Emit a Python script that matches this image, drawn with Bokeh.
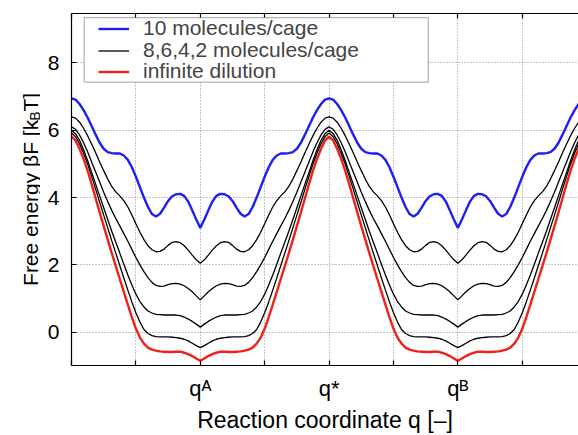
import math
from bokeh.plotting import figure
from bokeh.layouts import row
from bokeh.models import (Range1d, FixedTicker, LinearAxis, Legend, LegendItem,
                          Label, BoxAnnotation)
from bokeh.embed import file_html
from bokeh.resources import INLINE

# ---- data ----
# Each profile is read from q = 0 (barrier q*) to q = 2 (cage minimum q^A) in steps of 0.0625.
# The reference plots the same profile mirrored about q^A and repeated for the second cage q^B.
q_half = [0.0625 * i for i in range(33)]
blue_half = [6.95, 6.91, 6.78, 6.60, 6.38, 6.13, 5.87, 5.63, 5.45, 5.35, 5.32, 5.31, 5.31, 5.25, 5.12, 4.90,
             4.62, 4.31, 4.00, 3.72, 3.51, 3.44, 3.52, 3.70, 3.90, 4.04, 4.10, 4.11, 4.05, 3.88, 3.62, 3.35, 3.10]
black8_half = [6.40, 6.36, 6.24, 6.06, 5.84, 5.59, 5.33, 5.06, 4.80, 4.55, 4.33, 4.17, 4.05, 3.91, 3.72, 3.48,
               3.22, 2.97, 2.75, 2.57, 2.45, 2.39, 2.40, 2.47, 2.58, 2.67, 2.69, 2.66, 2.57, 2.44, 2.29, 2.15, 2.05]
black6_half = [6.10, 6.03, 5.86, 5.63, 5.36, 5.06, 4.76, 4.46, 4.16, 3.88, 3.62, 3.38, 3.16, 2.93, 2.70, 2.46,
               2.22, 2.00, 1.80, 1.62, 1.48, 1.39, 1.36, 1.37, 1.41, 1.44, 1.45, 1.43, 1.38, 1.30, 1.20, 1.08, 0.96]
black4_half = [6.00, 5.90, 5.70, 5.42, 5.10, 4.75, 4.40, 4.05, 3.70, 3.35, 3.00, 2.67, 2.35, 2.02, 1.70, 1.40,
               1.13, 0.91, 0.75, 0.63, 0.57, 0.53, 0.52, 0.51, 0.51, 0.51, 0.51, 0.49, 0.45, 0.39, 0.32, 0.24, 0.15]
black2_half = [5.92, 5.81, 5.60, 5.32, 5.00, 4.63, 4.25, 3.86, 3.48, 3.10, 2.72, 2.35, 1.98, 1.61, 1.25, 0.90,
               0.58, 0.30, 0.08, -0.04, -0.10, -0.13, -0.14, -0.14, -0.14, -0.15, -0.16, -0.18, -0.21, -0.26,
               -0.33, -0.40, -0.46]
red_half = [5.81, 5.70, 5.45, 5.15, 4.80, 4.40, 3.98, 3.56, 3.15, 2.75, 2.35, 1.96, 1.58, 1.20, 0.82, 0.45,
            0.10, -0.16, -0.34, -0.46, -0.52, -0.55, -0.57, -0.58, -0.59, -0.59, -0.58, -0.58, -0.61, -0.65,
            -0.71, -0.78, -0.85]

x_ticks = [0, 1, 2, 3, 4, 5, 6, 7, 8]
x_tick_labels = {2: "q\u1d2c", 4: "q*", 6: "q\u1d2e"}
y_ticks = [0, 2, 4, 6, 8]
legend_labels = ["10 molecules/cage", "8,6,4,2 molecules/cage", "infinite dilution"]
x_title = "Reaction coordinate q [\u2013]"
y_title_parts = ["Free energy \u03b2F [k", "B", "T]"]


def full_profile(half):
    # q*->q^A (read), q^A->q* (mirror), q*->q^B (same cage shape), q^B-> right edge
    return half + half[31:0:-1] + half + half[31:1:-1]


q = [0.0625 * i for i in range(127)]
blue = full_profile(blue_half)
black8 = full_profile(black8_half)
black6 = full_profile(black6_half)
black4 = full_profile(black4_half)
black2 = full_profile(black2_half)
red = full_profile(red_half)

FONT = "Liberation Sans"
BLUE = "#1e1ef5"
RED = "#f0201a"

# ---------------- main plot ----------------
p = figure(width=538, height=435, x_range=Range1d(0, 7.873), y_range=Range1d(-0.99, 9.47),
           output_backend="svg", toolbar_location=None,
           min_border_left=31, min_border_right=0, min_border_top=13, min_border_bottom=68)
p.outline_line_color = None
p.background_fill_color = "white"
p.border_fill_color = "white"

xb = p.xaxis[0]
xb.ticker = FixedTicker(ticks=x_ticks)
xb.major_label_overrides = {t: x_tick_labels.get(t, "") for t in x_ticks}
xb.major_label_text_font = FONT
xb.major_label_text_font_size = "22px"
xb.major_label_text_color = "black"
xb.major_label_standoff = 10
xb.axis_label = x_title
xb.axis_label_text_font = FONT
xb.axis_label_text_font_size = "23px"
xb.axis_label_text_font_style = "normal"
xb.axis_label_text_color = "black"
xb.axis_label_standoff = 3

top = LinearAxis(ticker=FixedTicker(ticks=x_ticks),
                 major_label_overrides={t: "" for t in x_ticks})
p.add_layout(top, "above")

yl = p.yaxis[0]
yl.ticker = FixedTicker(ticks=y_ticks)
yl.major_label_text_font = FONT
yl.major_label_text_font_size = "21px"
yl.major_label_text_color = "black"
yl.major_label_standoff = 12

for ax in (xb, top, yl):
    ax.major_tick_in = 5
    ax.major_tick_out = 0
    ax.minor_tick_in = 0
    ax.minor_tick_out = 0
    ax.axis_line_color = "black"
    ax.axis_line_width = 1.2
    ax.major_tick_line_color = "black"
    ax.major_tick_line_width = 1.2

for g in (p.xgrid[0], p.ygrid[0]):
    g.grid_line_color = "#8c8c8c"
    g.grid_line_dash = "1 2"
    g.grid_line_width = 1

rb = []
for ys in (black8, black6, black4, black2):
    rb.append(p.line(q, ys, line_color="black", line_width=1.3))
r_blue = p.line(q, blue, line_color=BLUE, line_width=2.4)
r_red = p.line(q, red, line_color=RED, line_width=2.4)

box = BoxAnnotation(left=0.197, right=5.54, bottom=7.43, top=9.35,
                    fill_color="white", fill_alpha=1.0, line_color="black", line_width=1.2)
p.add_layout(box)
for lab, rend, vy in ((legend_labels[0], r_blue, 325),
                      (legend_labels[1], rb[0], 303),
                      (legend_labels[2], r_red, 282)):
    p.add_layout(Legend(items=[LegendItem(label=lab, renderers=[rend])],
                        location=(27, vy), padding=0, spacing=0, margin=0,
                        glyph_width=31, glyph_height=21, label_height=21, label_standoff=14,
                        label_text_font=FONT, label_text_font_size="21px",
                        border_line_color=None, background_fill_alpha=0))

# ---------------- y-axis title strip (with subscript) ----------------
lf = figure(width=40, height=435, x_range=Range1d(0, 40), y_range=p.y_range,
            output_backend="svg", toolbar_location=None,
            x_axis_location=None, y_axis_location=None,
            min_border_left=0, min_border_right=0, min_border_top=13, min_border_bottom=68)
lf.outline_line_color = None
lf.xgrid.visible = False
lf.ygrid.visible = False
lf.background_fill_color = "white"
lf.border_fill_color = "white"
for txt, xx, yy, fs in ((y_title_parts[0], 30, 1.374, "21px"),
                        (y_title_parts[1], 34.5, 6.283, "14px"),
                        (y_title_parts[2], 30, 6.557, "21px")):
    lf.add_layout(Label(x=xx, y=yy, text=txt, angle=math.pi / 2, text_align="left",
                        text_baseline="alphabetic", text_font=FONT, text_font_size=fs,
                        text_color="black"))

layout = row(lf, p)
open("out.html", "w").write(file_html(layout, INLINE))
